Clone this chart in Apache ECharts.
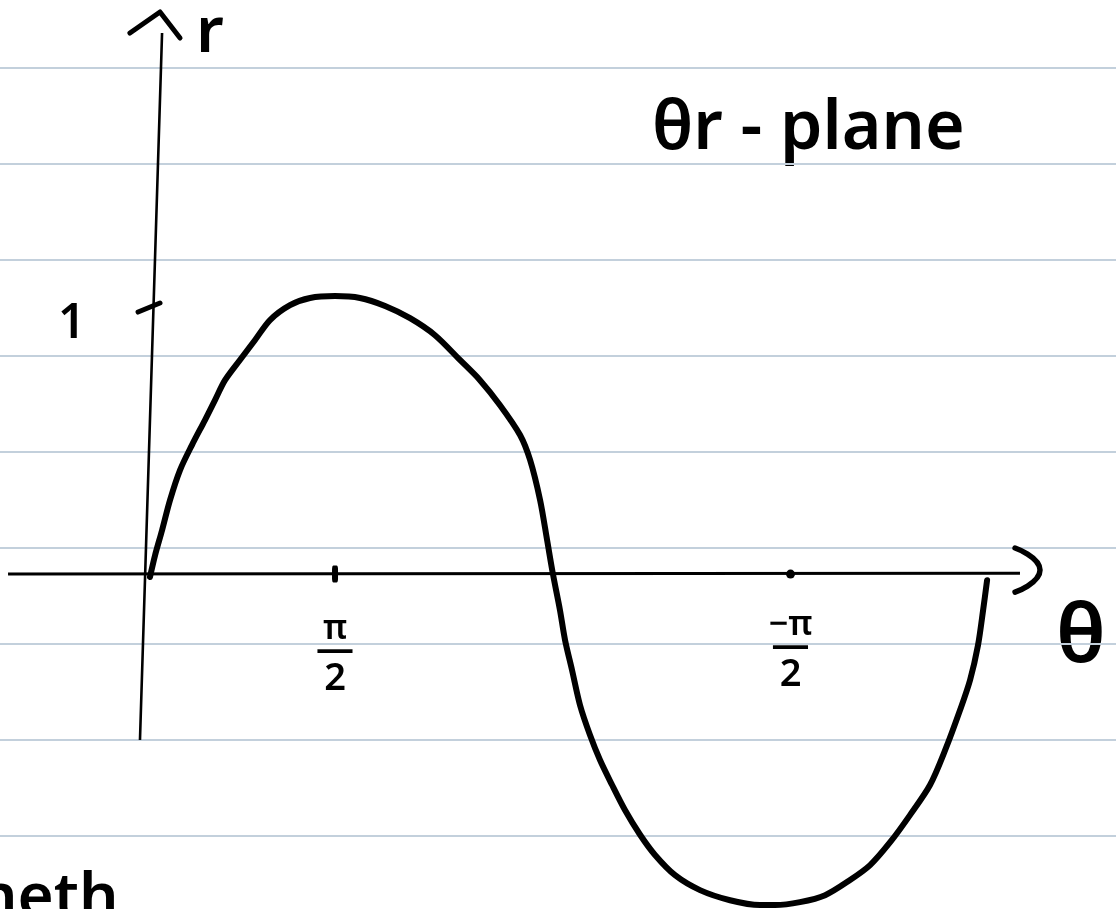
<!DOCTYPE html>
<html>
<head>
<meta charset="utf-8">
<script src="https://cdn.jsdelivr.net/npm/echarts@6/dist/echarts.min.js"></script>
<style>
  html, body { margin: 0; padding: 0; background: #ffffff; }
  #chart { width: 1116px; height: 909px; }
</style>
</head>
<body>
<div id="chart"></div>
<script>
// θ measured in quarter turns (1 = π/2), r in units of the marked "1"
const theta = [0.021, 0.048, 0.085, 0.127, 0.180, 0.243, 0.312, 0.365, 0.418, 0.497,
  0.577, 0.656, 0.762, 0.868, 1.000, 1.132, 1.265, 1.397, 1.529, 1.661,
  1.767, 1.873, 1.979, 2.032, 2.085, 2.122, 2.153, 2.190, 2.217, 2.254,
  2.296, 2.349, 2.402, 2.466, 2.534, 2.614, 2.693, 2.799, 2.931, 3.090,
  3.249, 3.328, 3.460, 3.593, 3.725, 3.831, 3.937, 4.042, 4.148, 4.228,
  4.307, 4.360, 4.402, 4.429, 4.450];
const r = [-0.011, 0.071, 0.165, 0.278, 0.391, 0.485, 0.579, 0.654, 0.729, 0.805,
  0.880, 0.955, 1.011, 1.038, 1.045, 1.038, 1.008, 0.962, 0.898, 0.805,
  0.729, 0.635, 0.523, 0.429, 0.278, 0.128, 0.000, -0.135, -0.248, -0.361,
  -0.492, -0.605, -0.699, -0.793, -0.887, -0.980, -1.056, -1.132, -1.188, -1.226,
  -1.244, -1.244, -1.233, -1.207, -1.150, -1.094, -1.008, -0.906, -0.793, -0.662,
  -0.511, -0.398, -0.267, -0.135, -0.023];

// marked positions on the θ axis and what is written under them
const thetaTicks = [1.0, 3.41];
const tickNumer = ['π', '−π'];
const tickDenom = ['2', '2'];

// the hand-drawn axes: θ axis, slightly slanted r axis, arrowhead, tick at r = 1
const thetaAxisStroke = [[-0.730, 0], [4.624, 0.003]];
const thetaEndMark = [[4.598, 0.098], [4.730, 0.015], [4.598, -0.068]];
const rAxisStroke = [[-0.032, -0.624], [0.085, 2.034]];
const rArrowHead = [[-0.085, 2.034], [0.074, 2.113], [0.180, 2.015]];
const rTickOne = [[-0.042, 0.985], [0.074, 1.019]];

// ruled lines of the notebook page
const ruleCount = 9;

const chart = echarts.init(document.getElementById('chart'), null, { renderer: 'canvas' });
const HAND = '"Noto Sans", "DejaVu Sans", sans-serif';

const curve = theta.map((t, i) => [t, r[i]]);

function stroke(name, data, width, extra) {
  return Object.assign({
    name: name, type: 'line', xAxisIndex: 0, yAxisIndex: 0,
    data: data, symbol: 'none', silent: true,
    lineStyle: { color: '#000', width: width, cap: 'round', join: 'round' }
  }, extra || {});
}

const option = {
  backgroundColor: '#ffffff',
  animation: false,
  grid: [
    { left: 0, right: 0, top: 0, bottom: 0, containLabel: false, outerBoundsMode: 'none' },
    { left: 0, right: 0, top: 68, height: (ruleCount - 1) * 96, containLabel: false, outerBoundsMode: 'none' }
  ],
  xAxis: [
    { gridIndex: 0, type: 'value', min: -0.7725, max: 5.132, show: false },
    { gridIndex: 1, type: 'value', min: 0, max: 1, show: false }
  ],
  yAxis: [
    { gridIndex: 0, type: 'value', min: -1.259, max: 2.158, show: false },
    {
      gridIndex: 1, type: 'value', min: 0, max: ruleCount - 1, interval: 1,
      axisLine: { show: false }, axisTick: { show: false }, axisLabel: { show: false },
      splitLine: { show: true, lineStyle: { color: '#c3d0dc', width: 2 } }
    }
  ],
  series: [
    stroke('θ axis', thetaAxisStroke, 3, { lineStyle: { color: '#000', width: 3, cap: 'butt' } }),
    stroke('θ end', thetaEndMark, 5.5, { smooth: 0.6 }),
    stroke('r axis', rAxisStroke, 2.6, { lineStyle: { color: '#000', width: 2.6, cap: 'butt' } }),
    stroke('r arrow', rArrowHead, 5),
    stroke('r tick', rTickOne, 5),
    {
      name: 'θ ticks', type: 'scatter', xAxisIndex: 0, yAxisIndex: 0,
      data: thetaTicks.map(t => [t, 0]),
      symbol: function (v, p) { return p.dataIndex === 0 ? 'roundRect' : 'circle'; },
      symbolSize: function (v, p) { return p.dataIndex === 0 ? [6, 17] : 9; },
      itemStyle: { color: '#000', opacity: 1 }, silent: true,
      label: {
        show: true,
        position: 'bottom',
        distance: 34,
        color: '#000',
        opacity: 1,
        formatter: function (p) {
          return '{n|' + tickNumer[p.dataIndex] + '}\n{b|—}\n{d|' + tickDenom[p.dataIndex] + '}';
        },
        rich: {
          n: { fontFamily: HAND, fontSize: 34, fontWeight: 600, lineHeight: 26, color: '#000', align: 'center' },
          b: { fontFamily: HAND, fontSize: 38, fontWeight: 600, lineHeight: 16, color: '#000', align: 'center' },
          d: { fontFamily: HAND, fontSize: 38, fontWeight: 600, lineHeight: 42, color: '#000', align: 'center' }
        }
      }
    },
    {
      name: 'r(θ)', type: 'line', xAxisIndex: 0, yAxisIndex: 0,
      data: curve, symbol: 'none', smooth: 0.3,
      lineStyle: { color: '#000', width: 6, cap: 'round', join: 'round' }
    }
  ],
  graphic: [
    { type: 'text', x: 196, y: 66, style: { text: 'r', font: '600 64px ' + HAND, fill: '#000', verticalAlign: 'bottom' } },
    { type: 'text', x: 58, y: 348, style: { text: '1', font: '600 48px ' + HAND, fill: '#000', verticalAlign: 'bottom' } },
    { type: 'text', x: 652, y: 164, style: { text: 'θr - plane', font: '600 68px ' + HAND, fill: '#000', verticalAlign: 'bottom' } },
    { type: 'text', x: 1056, y: 680, style: { text: 'θ', font: '600 82px ' + HAND, fill: '#000', verticalAlign: 'bottom' } },
    { type: 'text', x: -22, y: 930, style: { text: 'neth', font: '600 62px ' + HAND, fill: '#000', verticalAlign: 'bottom' } }
  ]
};

chart.setOption(option);
</script>
</body>
</html>
